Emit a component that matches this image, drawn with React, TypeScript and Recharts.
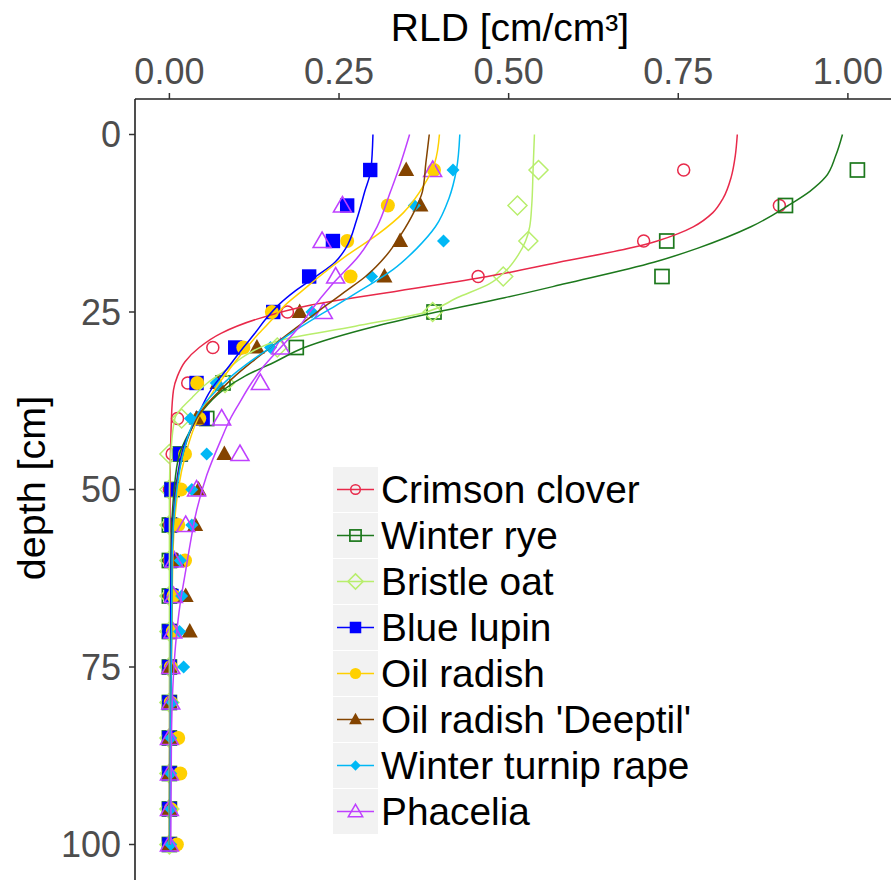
import { Legend, Scatter, ScatterChart, XAxis, YAxis } from "recharts";

// sampled depths of the measured points (cm)
const depths = [5, 10, 15, 20, 25, 30, 35, 40, 45, 50, 55, 60, 65, 70, 75, 80, 85, 90, 95, 100];

// measured RLD per species (cm/cm³), one value per depth above
const crimsonPts = [0.758, 0.899, 0.699, 0.455, 0.174, 0.064, 0.027, 0.012, 0.004, 0, 0, 0, 0, 0, 0, 0, 0, 0, 0, 0];
const ryePts = [1.014, 0.908, 0.733, 0.726, 0.39, 0.187, 0.079, 0.055, 0.016, 0.004, 0, 0, 0, 0, 0, 0, 0, 0, 0, 0];
const bristlePts = [0.544, 0.513, 0.529, 0.492, 0.388, 0.159, 0.082, 0.018, 0, 0, 0, 0, 0, 0, 0, 0, 0, 0, 0, 0];
const lupinPts = [0.296, 0.262, 0.241, 0.206, 0.153, 0.097, 0.04, 0.049, 0.016, 0.003, 0.003, 0.003, 0.003, 0, 0, 0, 0, 0, 0, 0];
const radishPts = [0.39, 0.322, 0.262, 0.267, 0.151, 0.109, 0.041, 0.044, 0.023, 0.017, 0.013, 0.023, 0.006, 0.005, 0.002, 0.002, 0.013, 0.016, 0.002, 0.011];
const deeptilPts = [0.349, 0.37, 0.34, 0.317, 0.192, 0.129, 0.071, 0.04, 0.081, 0.043, 0.038, 0.011, 0.024, 0.03, 0, 0, 0, 0, 0, 0];
const turnipPts = [0.418, 0.361, 0.404, 0.298, 0.21, 0.149, 0.069, 0.031, 0.055, 0.033, 0.033, 0.016, 0.018, 0.015, 0.021, 0.004, 0.002, 0.002, 0.002, 0.002];
const phaceliaPts = [0.388, 0.255, 0.225, 0.245, 0.227, 0.164, 0.134, 0.077, 0.104, 0.04, 0.024, 0.007, 0.006, 0.005, 0.002, 0.002, 0, 0, 0, 0];

// fitted curves: depth / RLD pairs
const crimsonCurveD = [0, 3, 6, 9, 11, 13, 14, 15, 16, 18, 20, 22, 24, 26, 28, 30, 32, 34, 36, 40, 50, 100];
const crimsonCurveV = [0.837, 0.834, 0.828, 0.816, 0.801, 0.772, 0.749, 0.719, 0.679, 0.574, 0.469, 0.339, 0.209, 0.129, 0.076, 0.044, 0.023, 0.012, 0.006, 0.003, 0.001, 0];
const ryeCurveD = [0, 3, 6, 8, 10, 13, 16, 18, 21, 23, 25, 27, 30, 32, 34, 36, 39, 42, 45, 50, 60, 100];
const ryeCurveV = [0.992, 0.982, 0.967, 0.944, 0.912, 0.857, 0.779, 0.714, 0.584, 0.494, 0.394, 0.304, 0.199, 0.156, 0.112, 0.079, 0.048, 0.029, 0.015, 0.007, 0.002, 0];
const bristleCurveD = [0, 5, 10, 13, 15, 17, 19, 21, 23, 25, 27, 29, 31, 33, 35, 37, 40, 45, 50, 100];
const bristleCurveV = [0.538, 0.536, 0.534, 0.531, 0.525, 0.514, 0.498, 0.472, 0.424, 0.379, 0.274, 0.162, 0.114, 0.086, 0.056, 0.034, 0.008, 0.002, 0, 0];
const lupinCurveD = [0, 5, 8, 12, 16, 18, 20, 22, 24, 26, 28, 30, 33, 36, 40, 44, 48, 55, 65, 100];
const lupinCurveV = [0.3, 0.297, 0.288, 0.276, 0.26, 0.244, 0.216, 0.186, 0.161, 0.142, 0.126, 0.109, 0.085, 0.061, 0.04, 0.021, 0.012, 0.005, 0.002, 0.001];
const radishCurveD = [0, 4, 7, 11, 14, 17, 20, 22, 24, 26, 28, 30, 33, 36, 40, 45, 50, 60, 100];
const radishCurveV = [0.398, 0.391, 0.376, 0.345, 0.308, 0.262, 0.221, 0.196, 0.171, 0.152, 0.132, 0.114, 0.089, 0.066, 0.042, 0.024, 0.013, 0.005, 0.001];
const deeptilCurveD = [0, 4, 8, 11, 14, 17, 20, 22, 24, 26, 28, 30, 32, 34, 36, 38, 40, 45, 50, 60, 100];
const deeptilCurveV = [0.383, 0.378, 0.373, 0.36, 0.342, 0.32, 0.289, 0.261, 0.232, 0.204, 0.176, 0.149, 0.122, 0.097, 0.075, 0.055, 0.04, 0.02, 0.01, 0.004, 0.001];
const turnipCurveD = [0, 5, 9, 13, 16, 19, 22, 24, 26, 28, 30, 32, 34, 36, 38, 40, 45, 50, 60, 100];
const turnipCurveV = [0.428, 0.423, 0.412, 0.392, 0.365, 0.33, 0.281, 0.247, 0.212, 0.179, 0.149, 0.119, 0.092, 0.07, 0.051, 0.038, 0.02, 0.011, 0.004, 0.001];
const phaceliaCurveD = [0, 4, 8, 13, 17, 21, 25, 27, 30, 33, 35, 38, 40, 43, 48, 53, 58, 62, 66, 72, 78, 85, 100];
const phaceliaCurveV = [0.354, 0.341, 0.326, 0.306, 0.28, 0.241, 0.207, 0.192, 0.164, 0.136, 0.121, 0.102, 0.09, 0.076, 0.055, 0.04, 0.03, 0.023, 0.016, 0.009, 0.005, 0.003, 0.002];

const xTicks = [0, 0.25, 0.5, 0.75, 1];
const yTicks = [0, 25, 50, 75, 100];

const FONT = '"Liberation Sans", Arial, sans-serif';

type Kind = "circleOpen" | "squareOpen" | "diamondOpen" | "square" | "circle" | "triangle" | "diamond" | "triangleOpen";

const species: { name: string; color: string; kind: Kind; pts: number[]; cd: number[]; cv: number[] }[] = [
  { name: "Crimson clover", color: "#e8294a", kind: "circleOpen", pts: crimsonPts, cd: crimsonCurveD, cv: crimsonCurveV },
  { name: "Winter rye", color: "#1c781c", kind: "squareOpen", pts: ryePts, cd: ryeCurveD, cv: ryeCurveV },
  { name: "Bristle oat", color: "#b8ee6c", kind: "diamondOpen", pts: bristlePts, cd: bristleCurveD, cv: bristleCurveV },
  { name: "Blue lupin", color: "#0000ff", kind: "square", pts: lupinPts, cd: lupinCurveD, cv: lupinCurveV },
  { name: "Oil radish", color: "#ffd000", kind: "circle", pts: radishPts, cd: radishCurveD, cv: radishCurveV },
  { name: "Oil radish 'Deeptil'", color: "#844400", kind: "triangle", pts: deeptilPts, cd: deeptilCurveD, cv: deeptilCurveV },
  { name: "Winter turnip rape", color: "#00b8f5", kind: "diamond", pts: turnipPts, cd: turnipCurveD, cv: turnipCurveV },
  { name: "Phacelia", color: "#bf40ff", kind: "triangleOpen", pts: phaceliaPts, cd: phaceliaCurveD, cv: phaceliaCurveV },
];

function Marker({ cx, cy, kind, color, s = 1 }: { cx: number; cy: number; kind: Kind; color: string; s?: number }) {
  switch (kind) {
    case "circleOpen":
      return <circle cx={cx} cy={cy} r={6 * s} fill="none" stroke={color} strokeWidth={1.5} />;
    case "squareOpen":
      return <rect x={cx - 7 * s} y={cy - 7 * s} width={14 * s} height={14 * s} fill="none" stroke={color} strokeWidth={1.7} />;
    case "diamondOpen":
      return (
        <polygon
          points={`${cx},${cy - 9.5 * s} ${cx + 9.5 * s},${cy} ${cx},${cy + 9.5 * s} ${cx - 9.5 * s},${cy}`}
          fill="none"
          stroke={color}
          strokeWidth={1.5}
        />
      );
    case "square":
      return <rect x={cx - 7.2 * s} y={cy - 7.2 * s} width={14.4 * s} height={14.4 * s} fill={color} />;
    case "circle":
      return <circle cx={cx} cy={cy} r={7 * s} fill={color} />;
    case "triangle":
      return <polygon points={`${cx},${cy - 8.5 * s} ${cx + 8 * s},${cy + 6 * s} ${cx - 8 * s},${cy + 6 * s}`} fill={color} />;
    case "diamond":
      return <polygon points={`${cx},${cy - 6.5 * s} ${cx + 6.5 * s},${cy} ${cx},${cy + 6.5 * s} ${cx - 6.5 * s},${cy}`} fill={color} />;
    case "triangleOpen":
      return (
        <polygon
          points={`${cx},${cy - 9 * s} ${cx + 9 * s},${cy + 6.5 * s} ${cx - 9 * s},${cy + 6.5 * s}`}
          fill="none"
          stroke={color}
          strokeWidth={1.5}
        />
      );
  }
  return null;
}

function LegendBox() {
  return (
    <div style={{ fontFamily: FONT }}>
      {species.map((sp) => (
        <div key={sp.name} style={{ display: "flex", alignItems: "center", height: 45, marginBottom: 1 }}>
          <svg width={45} height={45} style={{ display: "block" }}>
            <rect x={0} y={0} width={45} height={45} fill="#f2f2f2" />
            <line x1={4} x2={41} y1={22.5} y2={22.5} stroke={sp.color} strokeWidth={1.5} />
            <Marker cx={22.5} cy={22.5} kind={sp.kind} color={sp.color} s={0.8} />
          </svg>
          <span style={{ fontSize: 38.8, marginLeft: 3, color: "#000", whiteSpace: "nowrap", lineHeight: "45px" }}>
            {sp.name}
          </span>
        </div>
      ))}
    </div>
  );
}

export default function App() {
  return (
    <div style={{ position: "absolute", left: 0, top: 0, width: 891, height: 880, overflow: "hidden", background: "#fff" }}>
      <ScatterChart width={892} height={880} margin={{ top: 0, right: 0, bottom: 0, left: 0 }} style={{ fontFamily: FONT }}>
        <XAxis
          type="number"
          dataKey="x"
          orientation="top"
          height={99}
          domain={[-0.0507, 1.065]}
          allowDataOverflow
          ticks={xTicks}
          tickFormatter={(v: number) => v.toFixed(2)}
          tick={{ fill: "#4d4d4d", fontSize: 36 }}
          tickSize={6}
          tickMargin={9}
          tickLine={{ stroke: "#333", strokeWidth: 1.5 }}
          axisLine={{ stroke: "#222", strokeWidth: 1.6 }}
          label={() => (
            <text x={510} y={41} textAnchor="middle" fontSize={39} fill="#000">
              RLD [cm/cm³]
            </text>
          )}
        />
        <YAxis
          type="number"
          dataKey="y"
          reversed
          width={135}
          domain={[-5, 105]}
          allowDataOverflow
          ticks={yTicks}
          tick={{ fill: "#4d4d4d", fontSize: 36 }}
          tickSize={6}
          tickMargin={8}
          tickLine={{ stroke: "#333", strokeWidth: 1.5 }}
          axisLine={{ stroke: "#222", strokeWidth: 1.6 }}
          label={() => (
            <text x={31} y={488} transform="rotate(-90, 31, 488)" textAnchor="middle" dominantBaseline="central" fontSize={39.5} fill="#000">
              depth [cm]
            </text>
          )}
        />
        {species.map((sp) => (
          <Scatter
            key={`p-${sp.name}`}
            name={sp.name}
            data={sp.pts.map((v, i) => ({ x: v, y: depths[i] }))}
            isAnimationActive={false}
            shape={(p: any) => <Marker cx={p.cx} cy={p.cy} kind={sp.kind} color={sp.color} />}
          />
        ))}
        {species.map((sp) => (
          <Scatter
            key={`c-${sp.name}`}
            name={`${sp.name} fit`}
            legendType="none"
            data={sp.cd.map((d, i) => ({ x: sp.cv[i], y: d }))}
            isAnimationActive={false}
            line={{ stroke: sp.color, strokeWidth: 1.5 }}
            lineType="joint"
            lineJointType="monotoneY"
            shape={() => <g />}
          />
        ))}
        <Legend
          layout="vertical"
          align="center"
          verticalAlign="middle"
          wrapperStyle={{ left: 333, top: 467, width: 520, height: 370 }}
          content={() => <LegendBox />}
        />
      </ScatterChart>
    </div>
  );
}
